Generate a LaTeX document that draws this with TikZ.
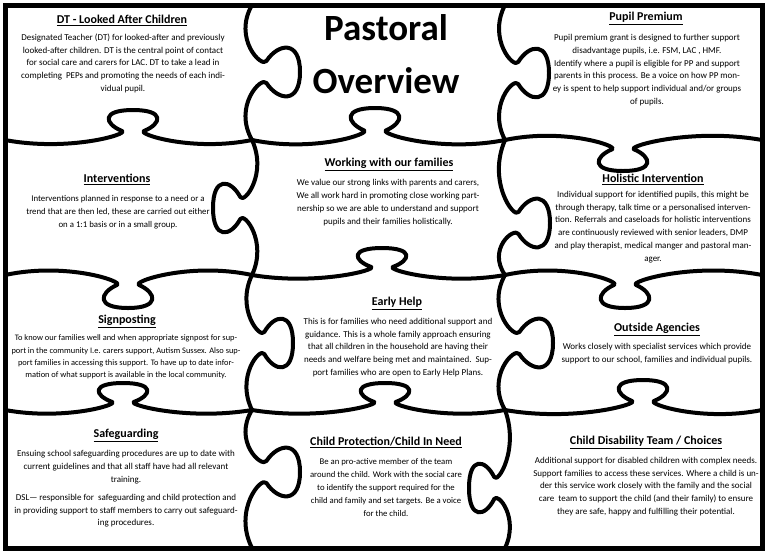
\documentclass[tikz,border=0pt]{standalone}
\usepackage{fontspec}
\setmainfont{Carlito}
\usepackage{tikz}

% puzzle seams: from a to b along a line, knob centred at c, signed depth d
\newcommand{\hseam}[5]{\draw[seam] (#1,#3) .. controls ({(#1+#4)/2},{#3-0.4*(#5)}) and ({#4-3.8},{#3+0.2*(#5)}) .. ({#4-11},{#3+0.3*(#5)})
 .. controls ({#4-29},{#3+0.55*(#5)}) and ({#4-32},{#3+(#5)}) .. ({#4},{#3+(#5)})
 .. controls ({#4+32},{#3+(#5)}) and ({#4+29},{#3+0.55*(#5)}) .. ({#4+11},{#3+0.3*(#5)})
 .. controls ({#4+3.8},{#3+0.2*(#5)}) and ({(#4+#2)/2},{#3-0.4*(#5)}) .. (#2,#3);}
\newcommand{\vseam}[5]{\draw[seam] (#3,#1) .. controls ({#3-0.4*(#5)},{(#1+#4)/2}) and ({#3+0.2*(#5)},{#4-3.8}) .. ({#3+0.3*(#5)},{#4-11})
 .. controls ({#3+0.55*(#5)},{#4-29}) and ({#3+(#5)},{#4-32}) .. ({#3+(#5)},{#4})
 .. controls ({#3+(#5)},{#4+32}) and ({#3+0.55*(#5)},{#4+29}) .. ({#3+0.3*(#5)},{#4+11})
 .. controls ({#3+0.2*(#5)},{#4+3.8}) and ({#3-0.4*(#5)},{(#4+#2)/2}) .. (#3,#2);}

\begin{document}
\begin{tikzpicture}[x=1pt,y=-1pt,
  seam/.style={line width=4pt,line join=round,line cap=round},
  ttl/.style={anchor=base,inner sep=0pt,font=\fontsize{12}{14}\selectfont\bfseries},
  txt/.style={align=center,inner sep=0pt,font=\fontsize{9}{12.8}\selectfont}]
\useasboundingbox (0,0) rectangle (768,555);
\draw[line width=5pt] (5.5,5.5) rectangle (762,548);

% horizontal seams
\hseam{5}{252}{140}{133}{-30}
\hseam{252}{505}{140}{375}{-32}
\hseam{505}{762}{140}{623}{31}
\hseam{5}{252}{275}{128}{33}
\hseam{252}{505}{275}{382}{-27}
\hseam{505}{762}{275}{625}{33}
\hseam{5}{252}{410}{123}{-27}
\hseam{252}{505}{410}{385}{-27}
\hseam{505}{762}{410}{643}{-30}
% vertical seams
\vseam{5}{140}{252}{72}{48}
\vseam{140}{275}{252}{208}{-39}
\vseam{275}{410}{252}{343}{41}
\vseam{410}{548}{252}{472}{48}
\vseam{5}{140}{505}{73}{44}
\vseam{140}{275}{505}{223}{45}
\vseam{275}{410}{505}{343}{48}
\vseam{410}{548}{505}{488}{-36}

\node[anchor=base,inner sep=0pt,font=\fontsize{37}{40}\selectfont\bfseries] (pas) at (386,40) {Pastoral};
\node[anchor=base,inner sep=0pt,font=\fontsize{37}{40}\selectfont\bfseries] (ovw) at (386,93) {Overview};

\node[ttl] (dtT) at (122,23.5) {\underline{DT - Looked After Children}};
\node[txt] (dtB) at (123,63.4) {Designated Teacher (DT) for looked-after and previously\\looked-after children. DT is the central point of contact\\for social care and carers for LAC. DT to take a lead in\\completing\ \ PEPs and promoting the needs of each indi-\\vidual pupil.};

\node[ttl] (ppT) at (646,20.5) {\underline{Pupil Premium}};
\node[txt] (ppB) at (647,70) {Pupil premium grant is designed to further support\\disadvantage pupils, i.e. FSM, LAC , HMF.\\Identify where a pupil is eligible for PP and support\\parents in this process. Be a voice on how PP mon-\\ey is spent to help support individual and/or groups\\of pupils.};

\node[ttl] (inT) at (117,182.5) {\underline{Interventions}};
\node[txt,font=\fontsize{8.8}{12.8}\selectfont] (inB) at (118,212) {Interventions planned in response to a need or a\\trend that are then led, these are carried out either\\on a 1:1 basis or in a small group.};

\node[ttl] (wfT) at (389,166.5) {\underline{Working with our families}};
\node[txt] (wfB) at (388,202.5) {We value our strong links with parents and carers,\\We all work hard in promoting close working part-\\nership so we are able to understand and support\\pupils and their families holistically.};

\node[ttl] (hoT) at (653,182.5) {\underline{Holistic Intervention}};
\node[txt] (hoB) at (653,227) {Individual support for identified pupils, this might be\\through therapy, talk time or a personalised interven-\\tion. Referrals and caseloads for holistic interventions\\are continuously reviewed with senior leaders, DMP\\and play therapist, medical manger and pastoral man-\\ager.};

\node[ttl] (spT) at (127,323.5) {\underline{Signposting}};
\node[txt,font=\fontsize{8.4}{12.3}\selectfont] (spB) at (126,357) {To know our families well and when appropriate signpost for sup-\\port in the community I.e. carers support, Autism Sussex. Also sup-\\port families in accessing this support. To have up to date infor-\\mation of what support is available in the local community.};

\node[ttl] (ehT) at (397,305.5) {\underline{Early Help}};
\node[txt] (ehB) at (398,347.5) {This is for families who need additional support and\\guidance. This is a whole family approach ensuring\\that all children in the household are having their\\needs and welfare being met and maintained.\ \ Sup-\\port families who are open to Early Help Plans.};

\node[ttl] (oaT) at (657,331.5) {\underline{Outside Agencies}};
\node[txt] (oaB) at (657,353.5) {Works closely with specialist services which provide\\support to our school, families and individual pupils.};

\node[ttl] (sgT) at (126,437.5) {\underline{Safeguarding}};
\node[txt] (sgB) at (126,489) {Ensuing school safeguarding procedures are up to date with\\current guidelines and that all staff have had all relevant\\training.\\[5pt]DSL--- responsible for\ \ safeguarding and child protection and\\in providing support to staff members to carry out safeguard-\\ing procedures.};

\node[ttl] (cpT) at (386,445.5) {\underline{Child Protection/Child In Need}};
\node[txt,font=\fontsize{8.7}{12.8}\selectfont] (cpB) at (386,487.5) {Be an pro-active member of the team\\around the child. Work with the social care\\to identify the support required for the\\child and family and set targets. Be a voice\\for the child.};

\node[ttl] (cdT) at (646,444.5) {\underline{Child Disability Team / Choices}};
\node[txt] (cdB) at (646,486.5) {Additional support for disabled children with complex needs.\\Support families to access these services. Where a child is un-\\der this service work closely with the family and the social\\care\ \ team to support the child (and their family) to ensure\\they are safe, happy and fulfilling their potential.};
\end{tikzpicture}
\end{document}
